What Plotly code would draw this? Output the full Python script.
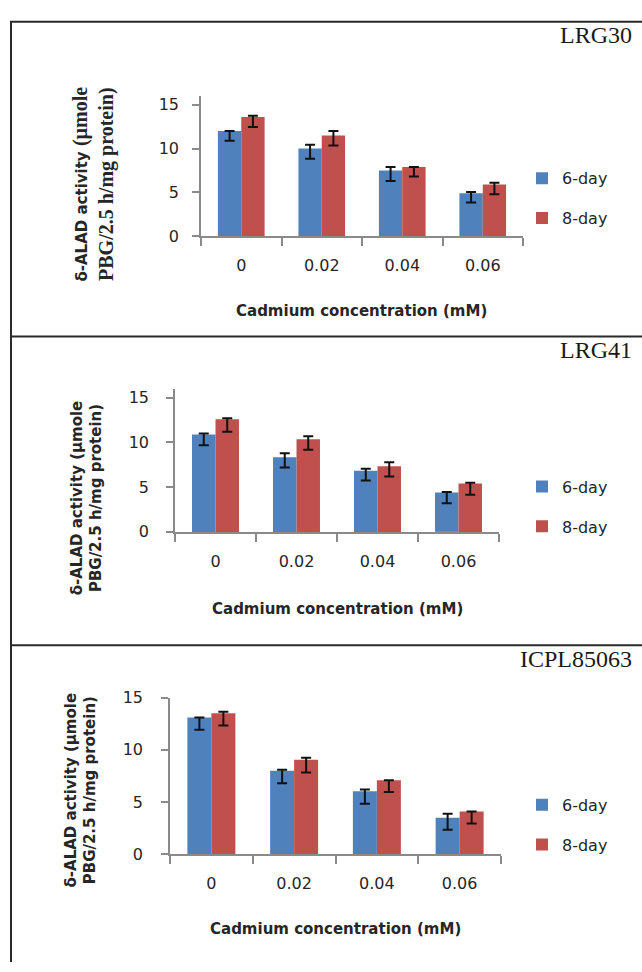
import plotly.graph_objects as go

W, H = 642, 972

# ---------------- data ----------------
categories = ["0", "0.02", "0.04", "0.06"]
series_names = ["6-day", "8-day"]
panel_titles = ["LRG30", "LRG41", "ICPL85063"]

lrg30_6day = [12.0, 10.0, 7.5, 4.9]
lrg30_6day_err_plus = [0.0, 0.45, 0.4, 0.15]
lrg30_6day_err_minus = [1.1, 1.15, 1.2, 1.05]
lrg30_8day = [13.6, 11.5, 7.9, 5.9]
lrg30_8day_err_plus = [0.15, 0.5, 0.0, 0.2]
lrg30_8day_err_minus = [1.13, 1.15, 1.1, 1.1]

lrg41_6day = [10.9, 8.35, 6.85, 4.4]
lrg41_6day_err_plus = [0.1, 0.45, 0.2, 0.05]
lrg41_6day_err_minus = [1.2, 1.15, 1.1, 1.2]
lrg41_8day = [12.6, 10.35, 7.35, 5.4]
lrg41_8day_err_plus = [0.1, 0.35, 0.45, 0.1]
lrg41_8day_err_minus = [1.4, 1.15, 1.15, 1.25]

icpl_6day = [13.1, 8.0, 6.05, 3.5]
icpl_6day_err_plus = [0.0, 0.1, 0.15, 0.4]
icpl_6day_err_minus = [1.17, 1.2, 1.2, 1.15]
icpl_8day = [13.5, 9.05, 7.1, 4.1]
icpl_8day_err_plus = [0.15, 0.2, 0.0, 0.0]
icpl_8day_err_minus = [1.17, 1.22, 1.14, 1.14]

y_tick_vals = [0, 5, 10, 15]

x_title = "Cadmium concentration (mM)"
y_title_line1 = "δ-ALAD activity (µmole"
y_title_line2 = "PBG/2.5 h/mg protein)"

# ---------------- styling ----------------
BLUE = "#4F81BD"
RED = "#C0504D"
AXIS = "#8a8a8a"
TXT = "#262626"
SANS = "DejaVu Sans"
SERIF = "Liberation Serif"


def px_x(p):
    return p / W


def px_y(p):
    return 1 - p / H


panels = [
    dict(title=panel_titles[0], s6=lrg30_6day, p6=lrg30_6day_err_plus, m6=lrg30_6day_err_minus,
         s8=lrg30_8day, p8=lrg30_8day_err_plus, m8=lrg30_8day_err_minus,
         xdom=(201, 523), ytop=88.8, ybot=231.7, ymax=16, ystand=10,
         title_y=27, leg_y=193, ytitle_x=94, ytitle_y=178, xtitle_y=308),
    dict(title=panel_titles[1], s6=lrg41_6day, p6=lrg41_6day_err_plus, m6=lrg41_6day_err_minus,
         s8=lrg41_8day, p8=lrg41_8day_err_plus, m8=lrg41_8day_err_minus,
         xdom=(175, 499), ytop=387.4, ybot=533.3, ymax=16, ystand=14,
         title_y=348, leg_y=507.5, ytitle_x=87, ytitle_y=498, xtitle_y=612),
    dict(title=panel_titles[2], s6=icpl_6day, p6=icpl_6day_err_plus, m6=icpl_6day_err_minus,
         s8=icpl_8day, p8=icpl_8day_err_plus, m8=icpl_8day_err_minus,
         xdom=(170, 501), ytop=702.3, ybot=862.3, ymax=15, ystand=15,
         title_y=663, leg_y=832, ytitle_x=81, ytitle_y=796, xtitle_y=938),
]

fig = go.Figure()
layout = dict(
    width=W, height=H,
    margin=dict(l=0, r=0, t=0, b=0),
    paper_bgcolor="white", plot_bgcolor="white",
    bargap=0.42, bargroupgap=0,
    barmode="group",
    font=dict(family=SANS, color=TXT, size=16),
    showlegend=True,
)
annotations = []
shapes = []

for i, p in enumerate(panels):
    k = "" if i == 0 else str(i + 1)
    xa, ya = "x" + k, "y" + k
    leg = "legend" + k
    for name, vals, ep, em, col in [
        (series_names[0], p["s6"], p["p6"], p["m6"], BLUE),
        (series_names[1], p["s8"], p["p8"], p["m8"], RED),
    ]:
        fig.add_trace(go.Bar(
            x=categories, y=vals, name=name,
            marker=dict(color=col, line=dict(width=0)),
            error_y=dict(type="data", symmetric=False, array=ep, arrayminus=em,
                         color="#111111", thickness=2, width=5),
            xaxis=xa, yaxis=ya, legend=leg, legendgroup=leg + name,
        ))
    layout["xaxis" + k] = dict(
        domain=[px_x(p["xdom"][0]), px_x(p["xdom"][1])],
        anchor=ya, type="category",
        showline=True, linecolor=AXIS, linewidth=1.5,
        ticks="outside", tickson="boundaries", ticklen=8, tickwidth=1.5, tickcolor=AXIS,
        tickfont=dict(family=SANS, size=16, color=TXT),
        ticklabelstandoff=14,
        showgrid=False, zeroline=False, fixedrange=True,
    )
    layout["yaxis" + k] = dict(
        domain=[px_y(p["ybot"]), px_y(p["ytop"])],
        anchor=xa, range=[0, p["ymax"]],
        tickvals=y_tick_vals,
        showline=True, linecolor=AXIS, linewidth=1.5,
        ticks="outside", ticklen=7, tickwidth=1.5, tickcolor=AXIS,
        tickfont=dict(family=SANS, size=16, color=TXT),
        ticklabelstandoff=p["ystand"],
        showgrid=False, zeroline=False, fixedrange=True,
    )
    layout[leg] = dict(
        x=px_x(522), xanchor="left", y=px_y(p["leg_y"]), yanchor="middle",
        bgcolor="rgba(0,0,0,0)", borderwidth=0,
        font=dict(family=SANS, size=16, color=TXT),
        tracegroupgap=16, traceorder="grouped",
    )
    # panel title
    annotations.append(dict(
        text=p["title"], x=px_x(634), y=px_y(p["title_y"]), xref="paper", yref="paper",
        xanchor="right", yanchor="middle", showarrow=False,
        font=dict(family=SERIF, size=24, color="#1a1a1a"),
    ))
    # x axis title
    cx = (p["xdom"][0] + p["xdom"][1]) / 2
    annotations.append(dict(
        text="<b>" + x_title + "</b>", x=px_x(cx), y=px_y(p["xtitle_y"]),
        xref="paper", yref="paper", xanchor="center", yanchor="middle", showarrow=False,
        font=dict(family=SANS, size=15, color=TXT),
    ))
    # y axis title
    if i == 0:
        ytxt = ("<span style='font-family:DejaVu Sans;font-size:15px;font-weight:bold'>"
                "δ-ALAD activity </span>"
                "<b>(µmole</b><br><b>" + y_title_line2 + "</b>")
        yfont = dict(family=SERIF, size=20, color=TXT)
    else:
        ytxt = "<b>" + y_title_line1 + "<br>" + y_title_line2 + "</b>"
        yfont = dict(family=SANS, size=15, color=TXT)
    annotations.append(dict(
        text=ytxt, x=px_x(p["ytitle_x"]), y=px_y(p["ytitle_y"]),
        xref="paper", yref="paper", xanchor="center", yanchor="middle",
        textangle=-90, showarrow=False, font=yfont,
    ))

# frame lines
FRAME = "#2a2a2a"
shapes.append(dict(type="line", xref="paper", yref="paper", x0=px_x(10), x1=1,
                   y0=px_y(13), y1=px_y(13), line=dict(color=FRAME, width=2)))
shapes.append(dict(type="line", xref="paper", yref="paper", x0=px_x(11), x1=px_x(11),
                   y0=px_y(13), y1=0, line=dict(color=FRAME, width=2)))
for yy in (334, 649):
    shapes.append(dict(type="line", xref="paper", yref="paper", x0=px_x(10), x1=1,
                       y0=px_y(yy), y1=px_y(yy), line=dict(color=FRAME, width=2)))

layout["annotations"] = annotations
layout["shapes"] = shapes
fig.update_layout(**layout)

fig.write_html(
    "out.html",
    config={"displayModeBar": False},
    post_script="document.body.style.margin='0';document.body.style.overflow='hidden';",
)
